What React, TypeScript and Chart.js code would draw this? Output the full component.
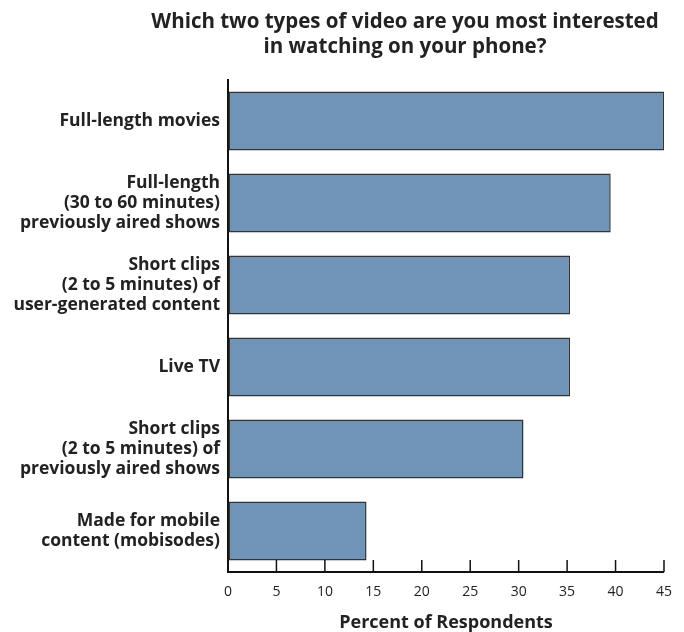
import React, { useEffect, useRef } from "react";
import { Chart, registerables } from "chart.js";

Chart.register(...registerables);

const titleLines = ["Which two types of video are you most interested", "in watching on your phone?"];
const categories: string[][] = [
  ["Full-length movies"],
  ["Full-length", "(30 to 60 minutes)", "previously aired shows"],
  ["Short clips", "(2 to 5 minutes) of", "user-generated content"],
  ["Live TV"],
  ["Short clips", "(2 to 5 minutes) of", "previously aired shows"],
  ["Made for mobile", "content (mobisodes)"],
];
const values = [45, 39.5, 35.3, 35.3, 30.5, 14.3];
const xAxisTitle = "Percent of Respondents";
const xMin = 0;
const xMax = 45;
const xStep = 5;

const FONT = "'Open Sans', 'DejaVu Sans', sans-serif";
const TEXT = "#222222";

const titlePlugin = {
  id: "customTitle",
  afterDraw(chart: any) {
    const { ctx } = chart;
    ctx.save();
    ctx.fillStyle = TEXT;
    ctx.font = `bold 20.5px ${FONT}`;
    ctx.textAlign = "center";
    ctx.textBaseline = "middle";
    titleLines.forEach((line, i) => {
      ctx.fillText(line, 405, 22 + i * 25);
    });
    ctx.restore();
  },
};

const innerTicksPlugin = {
  id: "innerTicks",
  afterDatasetsDraw(chart: any) {
    const { ctx, chartArea } = chart;
    const xs = chart.scales.x;
    ctx.save();
    ctx.strokeStyle = "#111111";
    ctx.lineWidth = 1.5;
    xs.ticks.forEach((_t: any, i: number) => {
      const px = xs.getPixelForTick(i);
      ctx.beginPath();
      ctx.moveTo(px, chartArea.bottom);
      ctx.lineTo(px, chartArea.bottom - 12);
      ctx.stroke();
    });
    ctx.restore();
  },
};

export default function App() {
  const ref = useRef<HTMLCanvasElement>(null);

  useEffect(() => {
    if (!ref.current) return;
    const chart = new Chart(ref.current, {
      type: "bar",
      data: {
        labels: categories,
        datasets: [
          {
            data: values,
            backgroundColor: "#6F94B8",
            borderColor: "#333333",
            borderWidth: 1.5,
            borderSkipped: false,
            categoryPercentage: 0.8,
            barPercentage: 0.9,
          },
        ],
      },
      options: {
        indexAxis: "y",
        responsive: false,
        animation: false,
        layout: { padding: { top: 80, right: 18, bottom: 0, left: 0 } },
        plugins: {
          legend: { display: false },
          title: { display: false },
          tooltip: { enabled: false },
        },
        scales: {
          x: {
            min: xMin,
            max: xMax,
            ticks: {
              stepSize: xStep,
              color: TEXT,
              font: { family: FONT, size: 14 },
              padding: 12,
            },
            grid: { drawOnChartArea: false, drawTicks: false },
            border: { color: "#111111", width: 2 },
            title: {
              display: true,
              text: xAxisTitle,
              color: TEXT,
              font: { family: FONT, size: 18, weight: "bold" },
              padding: { top: 0, bottom: -2 },
            },
            afterFit(scale: any) {
              scale.height = 60;
            },
          },
          y: {
            ticks: {
              color: TEXT,
              font: { family: FONT, size: 17.5, weight: "bold", lineHeight: 1.15 },
              padding: 8,
            },
            grid: { display: false, drawTicks: false },
            border: { color: "#111111", width: 2 },
            afterFit(scale: any) {
              scale.width = 228;
            },
          },
        },
      },
      plugins: [titlePlugin, innerTicksPlugin],
    });
    return () => chart.destroy();
  }, []);

  return (
    <div style={{ position: "fixed", left: 0, top: 0, width: 684, height: 632, background: "#fff" }}>
      <canvas ref={ref} width={684} height={632} style={{ display: "block" }} />
    </div>
  );
}
